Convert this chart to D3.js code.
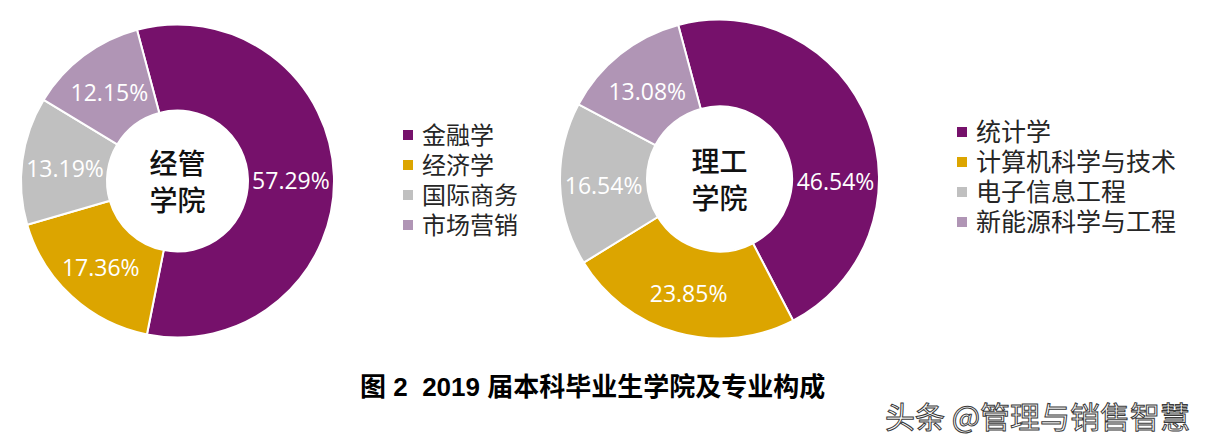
<!DOCTYPE html>
<html>
<head>
<meta charset="utf-8">
<script src="https://cdn.jsdelivr.net/npm/d3@7"></script>
<style>
  body { margin: 0; background: #fff; }
  svg { display: block; }
</style>
</head>
<body>
<div id="chartArea"></div>
<script>
// data
var colors = ['#76116b', '#dca500', '#c0c0c0', '#b095b5'];

var leftTitle = ['经管', '学院'];
var leftNames = ['金融学', '经济学', '国际商务', '市场营销'];
var leftValues = [57.29, 17.36, 13.19, 12.15];

var rightTitle = ['理工', '学院'];
var rightNames = ['统计学', '计算机科学与技术', '电子信息工程', '新能源科学与工程'];
var rightValues = [46.54, 23.85, 16.54, 13.08];

// label angle nudges (degrees), the original had one label dragged
var leftLabelShift = [0, 0, 0, 0];
var rightLabelShift = [21, 0, 0, 0];

var caption = '图 2\u00a0\u00a02019 届本科毕业生学院及专业构成';
var watermark = '头条 @管理与销售智慧';

var width = 1209, height = 446;

var svg = d3.select('#chartArea')
  .append('svg')
  .attr('width', width)
  .attr('height', height);

function createDonut(cx, cy, outerR, innerR, names, values, shifts, title, legendX, legendY, legendSize) {

  var color = d3.scaleOrdinal().domain(names).range(colors);

  var startA = -15 * Math.PI / 180;
  var pie = d3.pie()
    .sort(null)
    .startAngle(startA)
    .endAngle(startA + 2 * Math.PI)
    .value(function (d) { return d.val; });

  var data = names.map(function (n, i) { return { name: n, val: values[i], shift: shifts[i] }; });

  var arc = d3.arc().outerRadius(outerR).innerRadius(innerR);

  var g = svg.append('g')
    .attr('transform', 'translate(' + cx + ',' + cy + ')');

  var slices = g.selectAll('g.slice')
    .data(pie(data))
    .enter()
    .append('g')
    .attr('class', 'slice');

  slices.append('path')
    .attr('d', arc)
    .attr('fill', function (d) { return color(d.data.name); })
    .attr('stroke', '#fff')
    .attr('stroke-width', 2);

  slices.append('text')
    .attr('transform', function (d) {
      var s = d.data.shift * Math.PI / 180;
      var c = arc.centroid({ startAngle: d.startAngle + s, endAngle: d.endAngle + s });
      return 'translate(' + c[0] + ',' + (c[1] + 3) + ')';
    })
    .attr('dy', '.36em')
    .attr('text-anchor', 'middle')
    .attr('fill', '#fff')
    .style('font-family', '"Open Sans", "Noto Sans", sans-serif')
    .style('font-size', '23px')
    .text(function (d) { return d.data.val.toFixed(2) + '%'; });

  // centre title
  g.selectAll('text.title')
    .data(title)
    .enter()
    .append('text')
    .attr('class', 'title')
    .attr('text-anchor', 'middle')
    .attr('x', 0)
    .attr('y', function (d, i) { return -7 + i * 37; })
    .attr('fill', '#111')
    .style('font-family', '"Noto Sans CJK SC", sans-serif')
    .style('font-size', '28px')
    .style('font-weight', '500')
    .text(function (d) { return d; });

  // legend
  var leg = svg.append('g')
    .attr('transform', 'translate(' + legendX + ',' + legendY + ')');

  var rows = leg.selectAll('g')
    .data(names)
    .enter()
    .append('g')
    .attr('transform', function (d, i) { return 'translate(0,' + (i * 30) + ')'; });

  rows.append('rect')
    .attr('x', 0)
    .attr('y', -5)
    .attr('width', 10)
    .attr('height', 10)
    .attr('fill', function (d) { return color(d); });

  rows.append('text')
    .attr('x', 19)
    .attr('y', 0)
    .attr('dy', '.36em')
    .attr('fill', '#262626')
    .style('font-family', '"Noto Sans CJK SC", sans-serif')
    .style('font-size', legendSize + 'px')
    .text(function (d) { return d; });
}

createDonut(177.5, 181, 156.5, 70.5, leftNames, leftValues, leftLabelShift, leftTitle, 403, 135, 24);
createDonut(719.5, 179, 159.5, 72.5, rightNames, rightValues, rightLabelShift, rightTitle, 957, 132, 25);

// caption
svg.append('text')
  .attr('x', 360)
  .attr('y', 396)
  .attr('fill', '#000')
  .style('font-family', '"Liberation Sans", "Noto Sans CJK SC", sans-serif')
  .style('font-size', '26px')
  .style('font-weight', 'bold')
  .text(caption);

// watermark
svg.append('text')
  .attr('x', 885)
  .attr('y', 428)
  .attr('fill', '#fff')
  .attr('stroke', '#3a3a3a')
  .attr('stroke-width', 1)
  .style('font-family', '"Noto Sans CJK SC", sans-serif')
  .style('font-size', '30px')
  .text(watermark);
</script>
</body>
</html>
